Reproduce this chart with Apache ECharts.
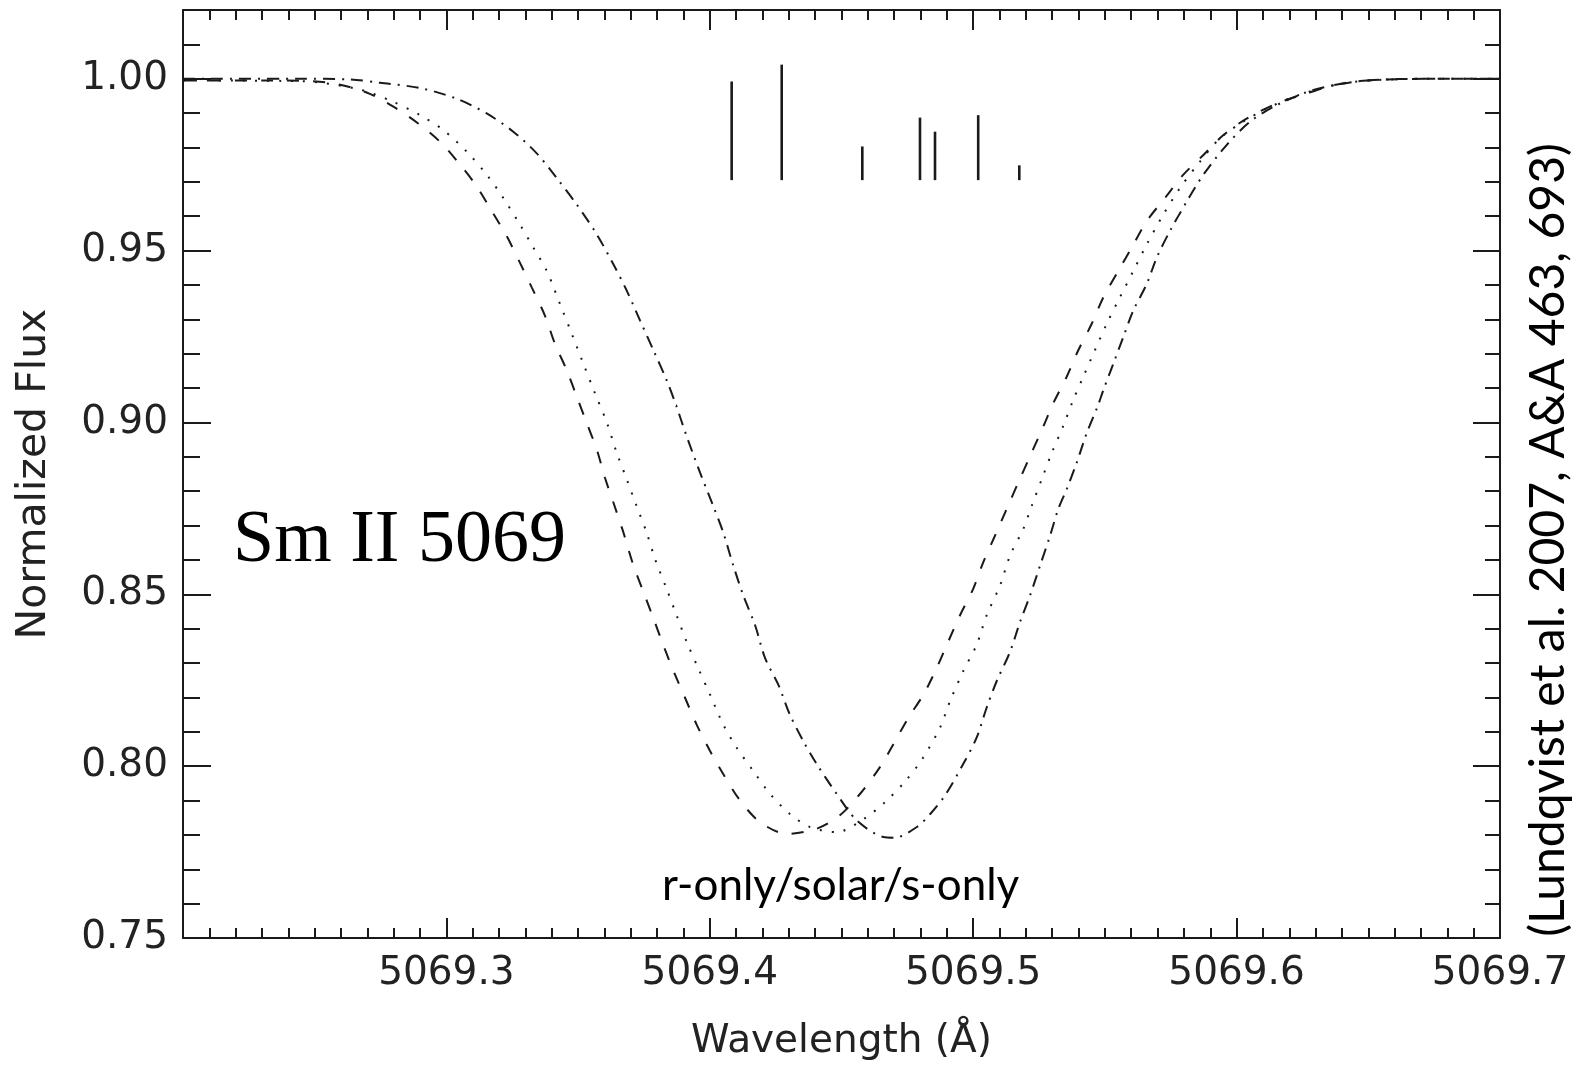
<!DOCTYPE html>
<html>
<head>
<meta charset="utf-8">
<script src="https://cdn.jsdelivr.net/npm/echarts@6/dist/echarts.min.js"></script>
<style>
  html, body { margin: 0; padding: 0; background: #fff; }
  #chart { width: 1580px; height: 1066px; }
</style>
</head>
<body>
<div id="chart"></div>
<script>
// Synthetic Sm II 5069 line profiles for three isotopic mixtures
const rOnlyWave = [5069.2000, 5069.2368, 5069.2558, 5069.2697, 5069.2811, 5069.2893, 5069.2982, 5069.3052, 5069.3115, 5069.3172, 5069.3229, 5069.3279, 5069.3324, 5069.3374, 5069.3412, 5069.3457, 5069.3495, 5069.3533, 5069.3571, 5069.3602, 5069.3634, 5069.3672, 5069.3710, 5069.3748, 5069.3786, 5069.3823, 5069.3868, 5069.3906, 5069.3950, 5069.4001, 5069.4051, 5069.4115, 5069.4191, 5069.4292, 5069.4406, 5069.4494, 5069.4570, 5069.4646, 5069.4697, 5069.4754, 5069.4811, 5069.4861, 5069.4905, 5069.4950, 5069.5000, 5069.5038, 5069.5083, 5069.5127, 5069.5171, 5069.5216, 5069.5266, 5069.5304, 5069.5355, 5069.5399, 5069.5450, 5069.5494, 5069.5551, 5069.5602, 5069.5659, 5069.5728, 5069.5798, 5069.5874, 5069.5950, 5069.6038, 5069.6152, 5069.6266, 5069.6367, 5069.6494, 5069.6746, 5069.7000];
const rOnlyFlux = [0.9995, 0.9995, 0.9988, 0.9960, 0.9913, 0.9870, 0.9812, 0.9750, 0.9687, 0.9615, 0.9542, 0.9465, 0.9393, 0.9311, 0.9229, 0.9152, 0.9075, 0.8998, 0.8921, 0.8839, 0.8767, 0.8680, 0.8584, 0.8507, 0.8430, 0.8353, 0.8266, 0.8199, 0.8121, 0.8044, 0.7977, 0.7900, 0.7837, 0.7803, 0.7818, 0.7857, 0.7919, 0.7997, 0.8064, 0.8141, 0.8208, 0.8285, 0.8362, 0.8439, 0.8516, 0.8593, 0.8671, 0.8748, 0.8825, 0.8902, 0.8988, 0.9056, 0.9133, 0.9210, 0.9287, 0.9364, 0.9441, 0.9509, 0.9586, 0.9653, 0.9721, 0.9778, 0.9836, 0.9884, 0.9928, 0.9957, 0.9981, 0.9995, 1.0000, 1.0000];

const solarWave = [5069.2000, 5069.2444, 5069.2659, 5069.2786, 5069.2900, 5069.2988, 5069.3077, 5069.3153, 5069.3216, 5069.3279, 5069.3330, 5069.3381, 5069.3431, 5069.3476, 5069.3520, 5069.3564, 5069.3609, 5069.3647, 5069.3685, 5069.3722, 5069.3760, 5069.3792, 5069.3836, 5069.3874, 5069.3912, 5069.3956, 5069.4001, 5069.4051, 5069.4102, 5069.4165, 5069.4229, 5069.4304, 5069.4380, 5069.4482, 5069.4582, 5069.4665, 5069.4741, 5069.4806, 5069.4874, 5069.4912, 5069.4962, 5069.5013, 5069.5051, 5069.5102, 5069.5140, 5069.5190, 5069.5222, 5069.5260, 5069.5298, 5069.5342, 5069.5380, 5069.5418, 5069.5462, 5069.5507, 5069.5557, 5069.5608, 5069.5659, 5069.5722, 5069.5785, 5069.5861, 5069.5937, 5069.6025, 5069.6114, 5069.6215, 5069.6317, 5069.6431, 5069.6696, 5069.7000];
const solarFlux = [0.9995, 0.9993, 0.9971, 0.9937, 0.9894, 0.9851, 0.9788, 0.9721, 0.9653, 0.9576, 0.9509, 0.9441, 0.9345, 0.9258, 0.9171, 0.9085, 0.9000, 0.8911, 0.8834, 0.8757, 0.8680, 0.8603, 0.8516, 0.8439, 0.8362, 0.8285, 0.8208, 0.8121, 0.8054, 0.7986, 0.7919, 0.7861, 0.7823, 0.7808, 0.7845, 0.7895, 0.7955, 0.8020, 0.8112, 0.8189, 0.8276, 0.8353, 0.8439, 0.8526, 0.8613, 0.8690, 0.8757, 0.8834, 0.8911, 0.8990, 0.9066, 0.9133, 0.9210, 0.9287, 0.9364, 0.9441, 0.9518, 0.9605, 0.9682, 0.9759, 0.9827, 0.9875, 0.9913, 0.9947, 0.9971, 0.9990, 1.0000, 1.0000];

const sOnlyWave = [5069.2000, 5069.2444, 5069.2634, 5069.2748, 5069.2900, 5069.3039, 5069.3153, 5069.3254, 5069.3343, 5069.3419, 5069.3495, 5069.3571, 5069.3634, 5069.3685, 5069.3735, 5069.3786, 5069.3836, 5069.3872, 5069.3912, 5069.3963, 5069.4013, 5069.4051, 5069.4089, 5069.4127, 5069.4172, 5069.4210, 5069.4260, 5069.4304, 5069.4355, 5069.4406, 5069.4482, 5069.4558, 5069.4659, 5069.4703, 5069.4786, 5069.4836, 5069.4893, 5069.4962, 5069.5013, 5069.5051, 5069.5089, 5069.5140, 5069.5178, 5069.5216, 5069.5254, 5069.5292, 5069.5323, 5069.5355, 5069.5393, 5069.5431, 5069.5474, 5069.5494, 5069.5532, 5069.5570, 5069.5608, 5069.5659, 5069.5697, 5069.5747, 5069.5811, 5069.5874, 5069.5962, 5069.6051, 5069.6152, 5069.6266, 5069.6367, 5069.6494, 5069.6734, 5069.7000];
const sOnlyFlux = [1.0000, 1.0000, 0.9998, 0.9988, 0.9973, 0.9942, 0.9899, 0.9846, 0.9783, 0.9711, 0.9634, 0.9547, 0.9460, 0.9383, 0.9297, 0.9210, 0.9123, 0.9050, 0.8960, 0.8854, 0.8757, 0.8680, 0.8584, 0.8497, 0.8410, 0.8314, 0.8237, 0.8150, 0.8073, 0.8006, 0.7919, 0.7842, 0.7794, 0.7792, 0.7823, 0.7860, 0.7915, 0.8006, 0.8083, 0.8170, 0.8247, 0.8333, 0.8420, 0.8497, 0.8584, 0.8671, 0.8748, 0.8806, 0.8883, 0.8969, 0.9050, 0.9094, 0.9171, 0.9249, 0.9326, 0.9403, 0.9480, 0.9557, 0.9643, 0.9721, 0.9807, 0.9875, 0.9923, 0.9961, 0.9981, 0.9995, 1.0000, 1.0000];

// Hyperfine / isotopic components: position and top of each marker stick
const componentWave = [5069.4083, 5069.4273, 5069.4579, 5069.4798, 5069.4855, 5069.5019, 5069.5175];
const componentTop = [0.9992, 1.0041, 0.9803, 0.9887, 0.9846, 0.9894, 0.9748];
const componentBase = 0.9705;

const xTicks = { min: 5069.2, max: 5069.7, step: 0.1 };
const yTicks = { min: 0.75, max: 1.02, step: 0.05, minorStep: 0.01 };

const zip = (xs, ys) => xs.map((x, i) => [x, ys[i]]);

const INK = '#1a1a1a';
const tickFont = { fontFamily: 'DejaVu Sans', fontSize: 39, color: '#222' };

const chart = echarts.init(document.getElementById('chart'), null, { renderer: 'canvas' });

const frameLine = { show: true, onZero: false, lineStyle: { color: INK, width: 2 } };

const option = {
  backgroundColor: '#ffffff',
  animation: false,
  grid: { left: 183, right: 80, top: 10, bottom: 121, containLabel: false },
  xAxis: [
    {
      type: 'value', position: 'bottom',
      min: xTicks.min, max: xTicks.max, interval: xTicks.step,
      axisLine: frameLine,
      axisTick: { show: true, inside: true, length: 20, lineStyle: { color: INK, width: 2 } },
      minorTick: { show: true, splitNumber: 10, length: 10, lineStyle: { color: INK, width: 2 } },
      splitLine: { show: false },
      axisLabel: {
        show: true, margin: 16, showMinLabel: false, ...tickFont,
        formatter: v => v.toFixed(1)
      },
      name: 'Wavelength (Å)', nameLocation: 'middle', nameGap: 84,
      nameTextStyle: { ...tickFont }
    },
    {
      type: 'value', position: 'top',
      min: xTicks.min, max: xTicks.max, interval: xTicks.step,
      axisLine: frameLine,
      axisTick: { show: true, inside: true, length: 20, lineStyle: { color: INK, width: 2 } },
      minorTick: { show: true, splitNumber: 10, length: 10, lineStyle: { color: INK, width: 2 } },
      splitLine: { show: false },
      axisLabel: { show: false }
    }
  ],
  yAxis: [
    {
      type: 'value', position: 'left',
      min: yTicks.min, max: yTicks.max, interval: yTicks.step,
      axisLine: frameLine,
      axisTick: { show: true, inside: true, length: 28, lineStyle: { color: INK, width: 2 } },
      splitLine: { show: false },
      axisLabel: {
        show: true, margin: 15, showMaxLabel: false, ...tickFont,
        formatter: v => (Math.abs(v - Math.round(v / yTicks.step) * yTicks.step) < 1e-6 ? v.toFixed(2) : '')
      },
      name: 'Normalized Flux', nameLocation: 'middle', nameGap: 128, nameRotate: 90,
      nameTextStyle: { ...tickFont, fontSize: 41 }
    },
    {
      type: 'value', position: 'left',
      min: yTicks.min, max: yTicks.max, interval: yTicks.minorStep,
      axisLine: { show: false },
      axisTick: { show: true, inside: true, length: 17, lineStyle: { color: INK, width: 2 } },
      splitLine: { show: false },
      axisLabel: { show: false }
    },
    {
      type: 'value', position: 'right',
      min: yTicks.min, max: yTicks.max, interval: yTicks.step,
      axisLine: frameLine,
      axisTick: { show: true, inside: true, length: 27, lineStyle: { color: INK, width: 2 } },
      splitLine: { show: false },
      axisLabel: { show: false }
    },
    {
      type: 'value', position: 'right',
      min: yTicks.min, max: yTicks.max, interval: yTicks.minorStep,
      axisLine: { show: false },
      axisTick: { show: true, inside: true, length: 15, lineStyle: { color: INK, width: 2 } },
      splitLine: { show: false },
      axisLabel: { show: false }
    }
  ],
  series: [
    {
      name: 'r-only', type: 'line', xAxisIndex: 0, yAxisIndex: 0,
      data: zip(rOnlyWave, rOnlyFlux), showSymbol: false, smooth: 0.3,
      lineStyle: { color: INK, width: 2, type: [12, 14] }
    },
    {
      name: 'solar', type: 'line', xAxisIndex: 0, yAxisIndex: 0,
      data: zip(solarWave, solarFlux), showSymbol: false, smooth: 0.3,
      lineStyle: { color: INK, width: 2, type: [2, 10] }
    },
    {
      name: 's-only', type: 'line', xAxisIndex: 0, yAxisIndex: 0,
      data: zip(sOnlyWave, sOnlyFlux), showSymbol: false, smooth: 0.3,
      lineStyle: { color: INK, width: 2, type: [12, 7, 2, 7] }
    },
    {
      name: 'components', type: 'custom', xAxisIndex: 0, yAxisIndex: 0,
      data: zip(componentWave, componentTop),
      renderItem: (params, api) => {
        const top = api.coord([api.value(0), api.value(1)]);
        const bottom = api.coord([api.value(0), componentBase]);
        return {
          type: 'line',
          shape: { x1: top[0], y1: top[1], x2: bottom[0], y2: bottom[1] },
          style: { stroke: INK, lineWidth: 2.6 }
        };
      }
    }
  ],
  graphic: [
    {
      type: 'text', left: 233, top: 505,
      style: { text: 'Sm II 5069', font: '74px "Liberation Serif", serif', fill: '#000' }
    },
    {
      type: 'text', left: 662, top: 864,
      style: { text: 'r-only/solar/s-only', font: '44px Lato, sans-serif', fill: '#000' }
    },
    {
      type: 'text', x: 1549, y: 540, rotation: Math.PI / 2,
      style: {
        text: '(Lundqvist et al. 2007, A&A 463, 693)',
        font: '48px Lato, sans-serif', fill: '#000',
        align: 'center', verticalAlign: 'middle'
      }
    }
  ]
};

chart.setOption(option);
</script>
</body>
</html>
